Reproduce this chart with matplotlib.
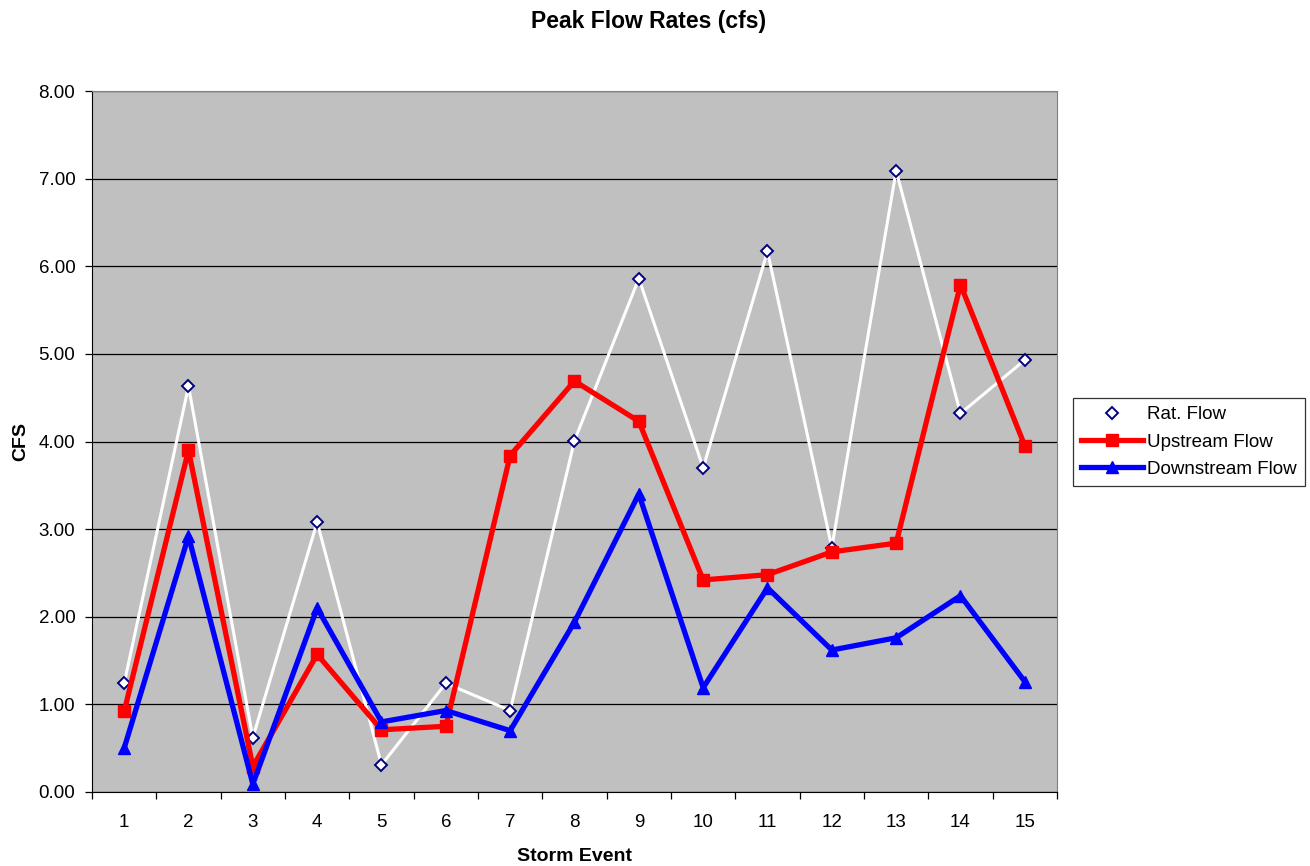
import matplotlib.pyplot as plt
from matplotlib.ticker import FixedLocator, NullFormatter

plt.rcParams['font.family'] = ['Liberation Sans', 'DejaVu Sans']

storm_events = list(range(1, 16))
rat_flow = [1.24, 4.63, 0.62, 3.08, 0.31, 1.24, 0.93, 4.01, 5.86, 3.70, 6.17, 2.79, 7.09, 4.32, 4.93]
upstream_flow = [0.92, 3.90, 0.29, 1.57, 0.71, 0.75, 3.84, 4.69, 4.23, 2.42, 2.48, 2.74, 2.84, 5.79, 3.95]
downstream_flow = [0.50, 2.92, 0.09, 2.10, 0.80, 0.93, 0.70, 1.94, 3.40, 1.19, 2.33, 1.62, 1.76, 2.24, 1.26]
y_ticks = [0, 1, 2, 3, 4, 5, 6, 7, 8]

fig = plt.figure(figsize=(13.1, 8.66), dpi=100)
ax = fig.add_axes([92 / 1310, 1 - 792 / 866, (1057 - 92) / 1310, (792 - 91) / 866])
ax.set_facecolor('#C0C0C0')

ax.plot(storm_events, rat_flow, color='white', lw=2.2, marker='D', ms=6.3,
        mfc='white', mec='#000080', mew=1.4, label='Rat. Flow', zorder=3)
ax.plot(storm_events, upstream_flow, color='#FF0000', lw=3.8, marker='s', ms=8,
        label='Upstream Flow', zorder=4)
ax.plot(storm_events, downstream_flow, color='#0000FF', lw=3.8, marker='^', ms=8,
        label='Downstream Flow', zorder=5)

ax.set_xlim(0.5, 15.5)
ax.set_ylim(0, 8)
ax.set_yticks(y_ticks)
ax.set_yticklabels([f'{v:.2f}' for v in y_ticks])
ax.yaxis.grid(True, color='black', lw=0.9)
ax.set_axisbelow(True)

# category labels centred, tick marks on the boundaries between them
ax.set_xticks(storm_events)
ax.tick_params(axis='x', which='major', length=0, pad=16)
ax.xaxis.set_minor_locator(FixedLocator([i + 0.5 for i in range(0, 16)]))
ax.xaxis.set_minor_formatter(NullFormatter())
ax.tick_params(axis='x', which='minor', length=5, width=0.9, direction='out')
ax.tick_params(axis='y', length=5, width=0.9, direction='out', pad=7)
ax.tick_params(labelsize=13.5)

for side in ['top', 'right']:
    ax.spines[side].set_color('#808080')
for side in ['left', 'bottom']:
    ax.spines[side].set_color('black')

ax.set_xlabel('Storm Event', fontsize=14, fontweight='bold', labelpad=12)
ax.set_ylabel('CFS', fontsize=14, fontweight='bold', labelpad=7)
fig.text(0.495, 0.975, 'Peak Flow Rates (cfs)', ha='center', va='center',
         fontsize=16.5, fontweight='bold')

leg = ax.legend(loc='center left', bbox_to_anchor=(1073 / 1310, 1 - 442 / 866),
                bbox_transform=fig.transFigure, fontsize=13.5, frameon=True,
                fancybox=False, edgecolor='black', handlelength=3.3,
                borderpad=0.45, labelspacing=0.55, handletextpad=0.2,
                borderaxespad=0)
leg.get_frame().set_linewidth(0.9)

fig.savefig('out.png', dpi=100)
